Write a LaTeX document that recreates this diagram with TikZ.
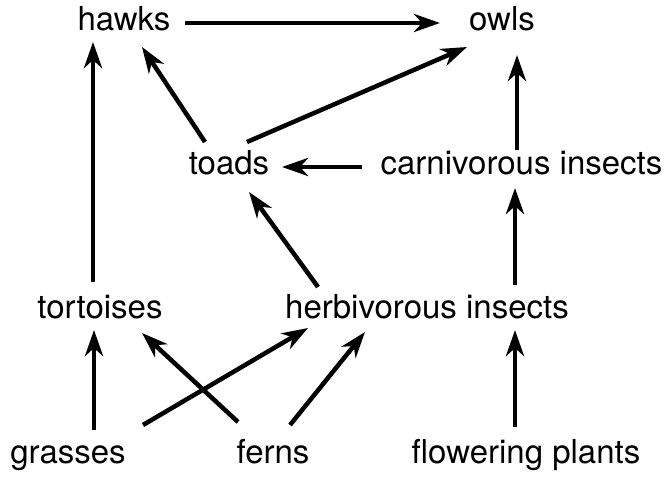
\documentclass[tikz,border=0pt]{standalone}
\usepackage{fontspec}
\setmainfont{TeX Gyre Heros}
\usetikzlibrary{arrows.meta,calc}
\begin{document}
\begin{tikzpicture}[x=1pt,y=-1pt,
  lab/.style={inner sep=0pt,anchor=base,font=\fontsize{33}{40}\selectfont},
  arr/.style={line width=4.5pt,-{Stealth[length=26pt,width=18pt,inset=8pt]}}]
\useasboundingbox[fill=white] (0,0) rectangle (672,478);
\node[lab] (hawks) at (124,31) {hawks};
\node[lab] (owls) at (502,31) {owls};
\node[lab] (toads) at (229,175) {toads};
\node[lab] (carn) at (521.5,175) {carnivorous insects};
\node[lab] (tort) at (100,319) {tortoises};
\node[lab] (herb) at (427,319) {herbivorous insects};
\node[lab] (grass) at (68,463) {grasses};
\node[lab] (ferns) at (273,463) {ferns};
\node[lab] (flow) at (526,463) {flowering plants};
\draw[arr] ($(hawks.base)+(61,-8)$) -- ($(owls.base)+(-62,-8)$);
\draw[arr] ($(tort.base)+(-7,-37)$) -- ($(hawks.base)+(-31,11)$);
\draw[arr] ($(toads.base)+(-24,-33)$) -- ($(hawks.base)+(18,16)$);
\draw[arr] ($(toads.base)+(18,-33)$) -- ($(owls.base)+(-35,16)$);
\draw[arr] ($(carn.base)+(-159.5,-8)$) -- ($(toads.base)+(53,-8)$);
\draw[arr] ($(carn.base)+(-4.5,-25)$) -- ($(owls.base)+(15,24)$);
\draw[arr] ($(herb.base)+(-109,-32)$) -- ($(toads.base)+(20,17)$);
\draw[arr] ($(herb.base)+(88,-34)$) -- ($(carn.base)+(-6.5,13)$);
\draw[arr] ($(grass.base)+(26,-33)$) -- ($(tort.base)+(-6,11)$);
\draw[arr] ($(grass.base)+(75,-38)$) -- ($(herb.base)+(-119,9)$);
\draw[arr] ($(ferns.base)+(-35,-41)$) -- ($(tort.base)+(42,14)$);
\draw[arr] ($(ferns.base)+(17,-38)$) -- ($(herb.base)+(-62,13)$);
\draw[arr] ($(flow.base)+(-11,-36)$) -- ($(herb.base)+(88,11)$);
\end{tikzpicture}
\end{document}
